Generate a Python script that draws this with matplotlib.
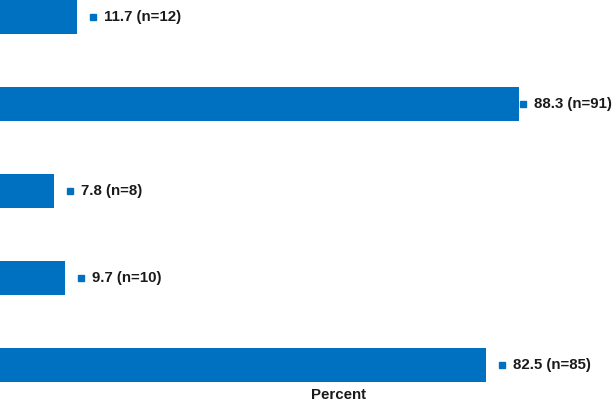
import matplotlib
matplotlib.use("Agg")
import matplotlib.pyplot as plt

# Data (top to bottom)
categories = ["Item 1", "Item 2", "Item 3", "Item 4", "Item 5"]
percent = [11.7, 88.3, 7.8, 9.7, 82.5]
counts = [12, 91, 8, 10, 85]
labels = [f"{p} (n={n})" for p, n in zip(percent, counts)]

BLUE = "#0070C0"
plt.rcParams["font.family"] = ["Liberation Sans", "DejaVu Sans"]

XMIN, XMAX = -1.56, 104.7

fig = plt.figure(figsize=(6.14, 4.03), dpi=100)
ax = fig.add_axes([0, 0, 1, 1])
ypos = list(range(len(categories)))
# bars drawn from the left edge of the (cropped) axis to each value
ax.barh(ypos, [v - XMIN for v in percent], left=XMIN, height=0.4,
        color=BLUE, edgecolor="none")
ax.set_xlim(XMIN, XMAX)
ax.set_ylim(4.437, -0.195)
ax.axis("off")

fig.canvas.draw()
W = fig.bbox.width
text_w = 79  # approx pixel width of label text
for y, v, lab in zip(ypos, percent, labels):
    xe, yc = ax.transData.transform((v, y))
    mx = min(xe + 16, W - text_w - 11 - 1)
    mx = max(mx, xe + 3)
    fx, fy = mx / W, yc / fig.bbox.height
    fig.add_artist(plt.Line2D([fx], [fy], marker="s", markersize=4.3,
                              color=BLUE, linestyle="none", transform=fig.transFigure))
    fig.text((mx + 11) / W, fy, lab, ha="left", va="center",
             fontsize=10.8, fontweight="bold", color="#1a1a1a")

fig.text(338 / 614, 1 - 395 / 403, "Percent", ha="center", va="center",
         fontsize=10.8, fontweight="bold", color="#1a1a1a")

fig.savefig("out.png", dpi=100)
